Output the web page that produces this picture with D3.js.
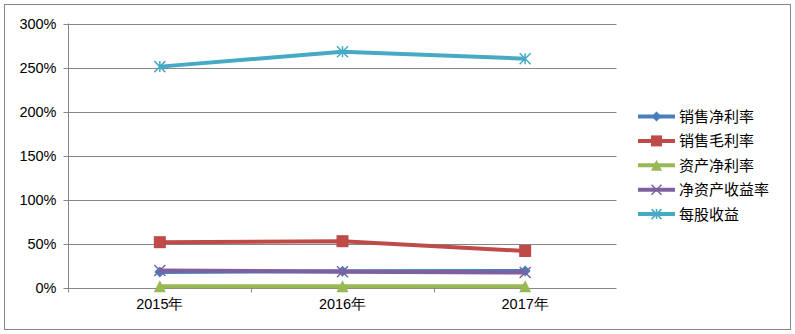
<!DOCTYPE html>
<html><head><meta charset="utf-8">
<script src="https://cdn.jsdelivr.net/npm/d3@7"></script>
<style>body{margin:0;background:#fff}svg{display:block}</style>
</head><body>
<svg id="chart" width="795" height="334"></svg>
<script>
// Financial ratios by year
const categories = ["2015年", "2016年", "2017年"];
const seriesNames = ["销售净利率", "销售毛利率", "资产净利率", "净资产收益率", "每股收益"];
const netMargin   = [17.6, 18.5, 18.8];
const grossMargin = [51.5, 52.6, 41.5];
const roa         = [1.5, 1.5, 1.5];
const roe         = [19.3, 18.0, 17.0];
const eps         = [251, 268, 260];
const yTicks = [0, 50, 100, 150, 200, 250, 300];

const series = [
  {name: seriesNames[0], values: netMargin,   color: "#4a7ebb", marker: "diamond"},
  {name: seriesNames[1], values: grossMargin, color: "#be4b48", marker: "square"},
  {name: seriesNames[2], values: roa,         color: "#98b954", marker: "triangle"},
  {name: seriesNames[3], values: roe,         color: "#7d60a0", marker: "x"},
  {name: seriesNames[4], values: eps,         color: "#46aac5", marker: "star"}
];

const svg = d3.select("#chart");
const font = "'Liberation Sans', Arial, sans-serif";
const cjk = "'Noto Sans CJK SC', sans-serif";

// outer frame
svg.append("rect").attr("x", 4.5).attr("y", 4.5).attr("width", 786).attr("height", 325)
  .attr("fill", "#fff").attr("stroke", "#868686").attr("stroke-width", 1);

const L = 68.5, R = 616.5, T = 23.5, B = 287.5;
const x = d3.scaleBand().domain(categories).range([L, R]);
const y = d3.scaleLinear().domain([0, 300]).range([B, T]);

// horizontal gridlines
svg.append("g").selectAll("line").data(yTicks).join("line")
  .attr("x1", L - 5).attr("x2", R).attr("y1", d => Math.round(y(d)) + 0.5).attr("y2", d => Math.round(y(d)) + 0.5)
  .attr("stroke", "#868686").attr("stroke-width", 1);

// y axis
const yAxis = svg.append("g").attr("transform", `translate(${L},0)`)
  .call(d3.axisLeft(y).tickValues(yTicks).tickFormat(d => d + "%").tickSize(0).tickPadding(12));
yAxis.select(".domain").attr("stroke", "#868686").attr("d", `M0,${T}V${B + 5}`);
yAxis.selectAll("text").attr("font-family", font).attr("font-size", 14.5).attr("fill", "#000");

// x axis
const xAxis = svg.append("g").attr("transform", `translate(0,${B})`)
  .call(d3.axisBottom(x).tickSize(0).tickPadding(11));
xAxis.select(".domain").remove();
xAxis.selectAll("text").attr("font-family", font).attr("font-size", 14.5).attr("fill", "#000");
// category boundary ticks
svg.append("g").selectAll("line").data(categories.slice(1)).join("line")
  .attr("x1", d => Math.round(x(d)) + 0.5).attr("x2", d => Math.round(x(d)) + 0.5)
  .attr("y1", B).attr("y2", B + 5).attr("stroke", "#868686");

const cx = c => x(c) + x.bandwidth() / 2;

function drawMarker(g, type, color, size) {
  const s = size;
  if (type === "diamond") {
    g.append("path").attr("d", `M0,${-s/2}L${s/2},0L0,${s/2}L${-s/2},0Z`).attr("fill", color);
  } else if (type === "square") {
    g.append("rect").attr("x", -s/2).attr("y", -s/2).attr("width", s).attr("height", s).attr("fill", color);
  } else if (type === "triangle") {
    g.append("path").attr("d", `M0,${-s/2}L${s/2},${s/2}L${-s/2},${s/2}Z`).attr("fill", color);
  } else if (type === "x") {
    g.append("path").attr("d", `M${-s/2},${-s/2}L${s/2},${s/2}M${s/2},${-s/2}L${-s/2},${s/2}`)
      .attr("stroke", color).attr("stroke-width", 1.5);
  } else if (type === "star") {
    g.append("path").attr("d", `M${-s/2},${-s/2}L${s/2},${s/2}M${s/2},${-s/2}L${-s/2},${s/2}M0,${-s/2}V${s/2}`)
      .attr("stroke", color).attr("stroke-width", 1.5);
  }
}
const markerSize = {diamond: 11, square: 12, triangle: 12, x: 11, star: 11};

const line = d3.line().x((d, i) => cx(categories[i])).y(d => y(d));

series.forEach(s => {
  const g = svg.append("g");
  g.append("path").attr("d", line(s.values)).attr("fill", "none")
    .attr("stroke", s.color).attr("stroke-width", 4).attr("stroke-linejoin", "round");
  s.values.forEach((v, i) => {
    const m = g.append("g").attr("transform", `translate(${cx(categories[i])},${y(v)})`);
    drawMarker(m, s.marker, s.color, markerSize[s.marker]);
  });
});

// legend
const legend = svg.append("g");
series.forEach((s, i) => {
  const ly = 116.5 + i * 24.4;
  const g = legend.append("g").attr("transform", `translate(0,${ly})`);
  g.append("line").attr("x1", 638).attr("x2", 675).attr("y1", 0).attr("y2", 0)
    .attr("stroke", s.color).attr("stroke-width", 4);
  const m = g.append("g").attr("transform", "translate(656.5,0)");
  drawMarker(m, s.marker, s.color, markerSize[s.marker] - 1);
  g.append("text").attr("x", 679).attr("y", 0).attr("dy", "0.36em")
    .attr("font-family", cjk).attr("font-size", 15).attr("fill", "#000").text(s.name);
});
</script>
</body></html>
